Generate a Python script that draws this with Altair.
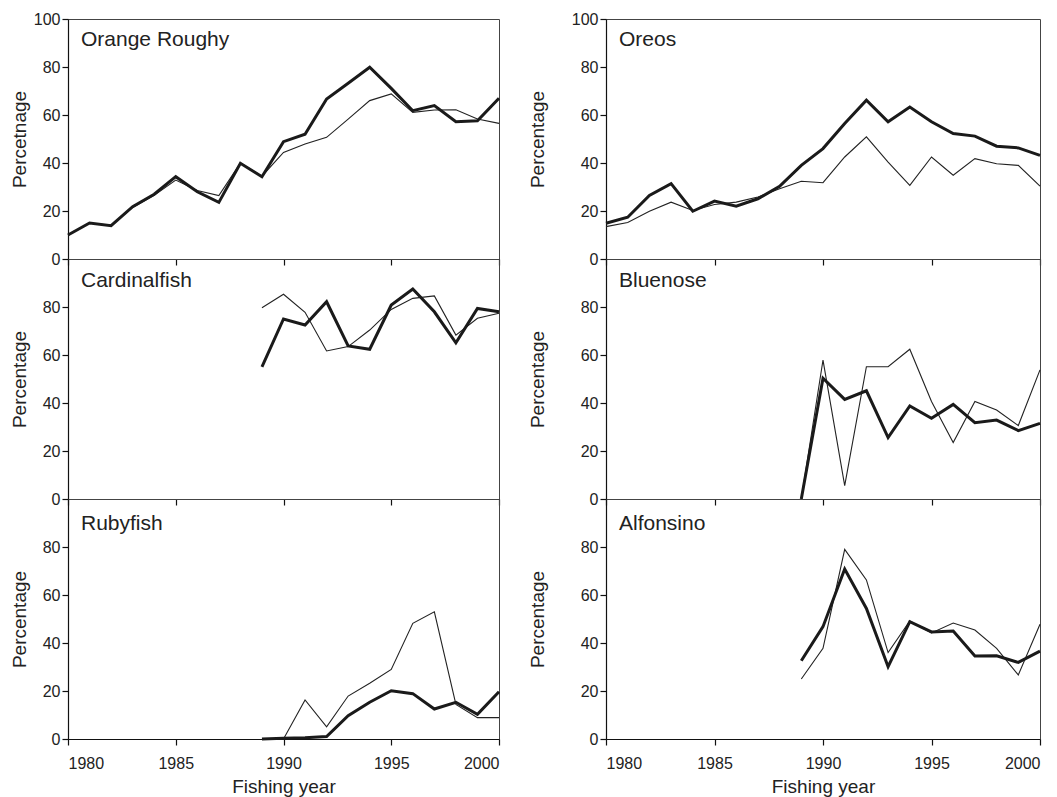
import altair as alt
import pandas as pd

FONT = "Liberation Sans"

years_full = list(range(1980, 2001))
years_late = list(range(1989, 2001))

x_ticks = [1980, 1985, 1990, 1995, 2000]
y_ticks_top = [0, 20, 40, 60, 80, 100]
y_ticks_low = [0, 20, 40, 60, 80]

species = ["Orange Roughy", "Oreos", "Cardinalfish", "Bluenose", "Rubyfish", "Alfonsino"]
y_titles = ["Percetnage", "Percentage", "Percentage", "Percentage", "Percentage", "Percentage"]

orange_thick = [10, 15, 13.9, 21.8, 27, 34.3, 28, 23.6, 39.9, 34.3, 48.9, 52, 66.7, 73.2, 79.9, 71.1, 61.8, 63.9, 57.2, 57.6, 67]
orange_thin = [10, 15, 14, 21.5, 26.5, 32.9, 28.5, 26.4, 40, 34.5, 44.4, 47.9, 50.7, 58.3, 66, 68.8, 61.1, 62.1, 62.2, 58.3, 56.5]

oreos_thick = [14.9, 17.4, 26.5, 31.4, 19.9, 24.1, 22, 25.1, 30.3, 39, 46, 56.5, 66.2, 57.2, 63.3, 57.2, 52.3, 51.2, 47, 46.3, 43.2]
oreos_thin = [13.5, 15.2, 19.9, 23.7, 20.2, 22.7, 23.7, 25.8, 29.3, 32.4, 31.8, 42.5, 50.9, 40.4, 30.7, 42.5, 34.9, 41.8, 39.7, 39, 30.4]

cardinal_thick = [55.1, 75, 72.5, 82.2, 63.8, 62.4, 80.8, 87.5, 78, 65.1, 79.4, 78]
cardinal_thin = [79.7, 85.3, 77.8, 61.7, 63.5, 70.4, 79, 83.6, 84.6, 68.3, 75.3, 77.4]

bluenose_thick = [0, 50.3, 41.5, 45.1, 25.6, 38.8, 33.6, 39.4, 31.8, 32.9, 28.5, 31.5]
bluenose_thin = [0, 57.9, 5.6, 55.1, 55.1, 62.4, 40.6, 23.5, 40.6, 37.1, 30.6, 53.8]

ruby_thick = [0, 0.3, 0.5, 1, 9.7, 15.3, 20.1, 18.9, 12.5, 15.3, 10.3, 19.7]
ruby_thin = [0, 0, 16.3, 5.1, 17.9, 23.2, 29, 48.2, 53, 14.4, 8.9, 8.9]

alfonsino_thick = [32.6, 46.8, 70.8, 54.4, 30.1, 48.9, 44.6, 45, 34.6, 34.7, 31.9, 36.6]
alfonsino_thin = [25, 37.8, 79, 66.3, 36, 49.2, 44.2, 48.3, 45.4, 37.8, 26.7, 47.8]

panel_data = [
    (years_full, orange_thick, orange_thin),
    (years_full, oreos_thick, oreos_thin),
    (years_late, cardinal_thick, cardinal_thin),
    (years_late, bluenose_thick, bluenose_thin),
    (years_late, ruby_thick, ruby_thin),
    (years_late, alfonsino_thick, alfonsino_thin),
]

W_LEFT = 431
W_RIGHT = 434
H = 240
label_y = [27, 28, 31]
title_x = [-39, -59]


def panel(i):
    name = species[i]
    years, thick, thin = panel_data[i]
    row, col = divmod(i, 2)
    n = len(years)
    df = pd.DataFrame({
        "year": years + years,
        "value": thick + thin,
        "series": ["thick"] * n + ["thin"] * n,
    })
    xaxis_kw = dict(values=x_ticks, format="d", tickSize=6, labelPadding=10,
                    grid=False)
    if row == 2:
        xaxis_kw.update(title="Fishing year", titlePadding=6)
    else:
        xaxis_kw.update(labels=False, title=None)
    yaxis_kw = dict(values=y_ticks_top if row == 0 else y_ticks_low,
                    title=y_titles[i], tickSize=6, labelPadding=2, grid=False,
                    titleX=title_x[col], titleY=H / 2, titleBaseline="bottom")
    x = alt.X("year:Q", scale=alt.Scale(domain=[1980, 2000], nice=False, zero=False),
              axis=alt.Axis(**xaxis_kw))
    y = alt.Y("value:Q", scale=alt.Scale(domain=[0, 100], nice=False),
              axis=alt.Axis(**yaxis_kw))
    base = alt.Chart(df)
    thin_l = base.transform_filter(alt.datum.series == "thin").mark_line(
        color="#222222", strokeWidth=1.1, strokeJoin="miter").encode(x=x, y=y)
    thick_l = base.transform_filter(alt.datum.series == "thick").mark_line(
        color="#1a1a1a", strokeWidth=3, strokeJoin="miter").encode(x=x, y=y)
    txt = alt.Chart(pd.DataFrame({"label": [name]})).mark_text(
        align="left", baseline="alphabetic", font=FONT, fontSize=21, color="#222222"
    ).encode(x=alt.value(13), y=alt.value(label_y[row]), text="label:N")
    return alt.layer(thin_l, thick_l, txt).properties(
        width=W_LEFT if col == 0 else W_RIGHT, height=H)


chart = alt.concat(
    *[panel(i) for i in range(6)],
    columns=2,
    spacing=alt.RowColnumber(row=0, column=107),
    bounds="flush",
).properties(
    padding={"left": 9, "top": 10, "right": 10, "bottom": 5}
).configure_view(
    stroke="#444444", strokeWidth=1
).configure_axis(
    labelFont=FONT, labelFontSize=16, labelColor="#222222",
    titleFont=FONT, titleFontSize=19, titleFontWeight="normal", titleColor="#222222",
    domainColor="#111111", domainWidth=1.2, tickColor="#111111", tickWidth=1.2,
)

chart.save("out.html", embed_options={"renderer": "svg", "actions": False})
